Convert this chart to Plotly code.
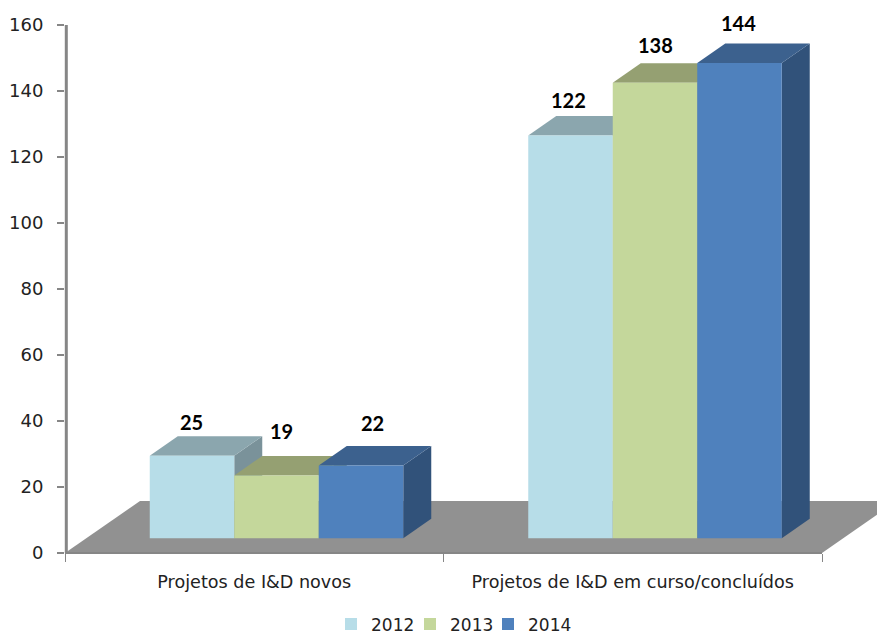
import plotly.graph_objects as go

categories = ["Projetos de I&D novos", "Projetos de I&D em curso/concluídos"]
years = ["2012", "2013", "2014"]
values_2012 = [25, 122]
values_2013 = [19, 138]
values_2014 = [22, 144]
y_ticks = [0, 20, 40, 60, 80, 100, 120, 140, 160]

front_colors = ["#B7DDE8", "#C4D79B", "#4F81BD"]
top_colors = ["#8BA6AE", "#95A072", "#3C618E"]
side_colors = ["#7A929A", "#84906A", "#31527A"]
FLOOR = "#919191"
AXIS = "#868686"
FONT = "Lato"
TICK_FONT = "DejaVu Sans"

# layout in pixels (page body adds an 8 px offset)
OFFSET = 8
W, H = 885 - OFFSET, 645
L, T = 65 - OFFSET, 25 - OFFSET
B = H - (553 - OFFSET)
px_per_cat = 378.5
px_per_unit = 3.3
x_max = (W - L) / px_per_cat
plot_w = W - L
plot_h = H - T - B

bar_w = 84.5 / px_per_cat
shift = 22.25 / px_per_cat
base = 4.5
dx, dy = 28 / px_per_cat, 19.5 / px_per_unit
floor_dx, floor_dy = 75 / px_per_cat, 52 / px_per_unit

series = [values_2012, values_2013, values_2014]
# per-label pixel nudges (2012, 2013, 2014) for each category
label_dx = [[-1, 5, 11], [-2, 0, -1]]
label_up = [[34, 44, 43], [36, 38, 40]]
# left edge of each one-entry legend, in image pixels
legend_left_px = [331, 410, 488]
legend_names = ["legend", "legend2", "legend3"]

def path(points):
    return "M" + "L".join(f"{x},{y}" for x, y in points) + "Z"

fig = go.Figure()
shapes = [dict(type="path", layer="below", xref="x", yref="y",
               path=path([(0, 0), (2, 0), (2 + floor_dx, floor_dy), (floor_dx, floor_dy)]),
               fillcolor=FLOOR, line=dict(width=0))]
annotations = []

for s, (year, vals) in enumerate(zip(years, series)):
    xs = [c + 0.5 + shift + (s - 1) * bar_w for c in range(len(categories))]
    fig.add_trace(go.Bar(x=xs, y=vals, base=base, width=bar_w, name=year,
                         legend=legend_names[s],
                         marker=dict(color=front_colors[s], line=dict(width=0)),
                         hoverinfo="skip"))

for c in range(len(categories)):
    for s, vals in enumerate(series):
        xc = c + 0.5 + shift + (s - 1) * bar_w
        x0, x1 = xc - bar_w / 2, xc + bar_w / 2
        top = vals[c] + base
        shapes.append(dict(type="path", layer="below", xref="x", yref="y",
                           path=path([(x1, base), (x1, top), (x1 + dx, top + dy), (x1 + dx, base + dy)]),
                           fillcolor=side_colors[s], line=dict(width=0)))
        shapes.append(dict(type="path", layer="below", xref="x", yref="y",
                           path=path([(x0, top), (x1, top), (x1 + dx, top + dy), (x0 + dx, top + dy)]),
                           fillcolor=top_colors[s], line=dict(width=0)))
        annotations.append(dict(x=xc, y=top, xref="x", yref="y", text=f"<b>{vals[c]}</b>",
                                showarrow=False, xshift=label_dx[c][s], yshift=label_up[c][s],
                                font=dict(family=FONT, size=20, color="#000000")))

# axis lines: x stops at the last category while the floor runs past it
shapes.append(dict(type="line", layer="above", xref="paper", yref="paper",
                   x0=0, x1=2 / x_max, y0=0, y1=0, line=dict(color=AXIS, width=2)))
shapes.append(dict(type="line", layer="above", xref="paper", yref="paper",
                   x0=1.3 / plot_w, x1=1.3 / plot_w, y0=0, y1=1, line=dict(color=AXIS, width=3)))

legend_layout = {
    name: dict(orientation="h", x=(px - 65) / plot_w, xanchor="left", y=-0.1013, yanchor="top",
               font=dict(family=TICK_FONT, size=17, color="#222222"),
               bgcolor="rgba(0,0,0,0)")
    for name, px in zip(legend_names, legend_left_px)
}

fig.update_layout(
    width=W, height=H, autosize=False,
    margin=dict(l=L, r=0, t=T, b=B, pad=0, autoexpand=False),
    paper_bgcolor="white", plot_bgcolor="white",
    barmode="overlay", showlegend=True,
    shapes=shapes, annotations=annotations,
    font=dict(family=TICK_FONT, size=17, color="#222222"),
    xaxis=dict(range=[0, x_max], showgrid=False, zeroline=False, showline=False,
               tickmode="array", tickvals=[c + 0.5 for c in range(len(categories))],
               ticktext=categories, ticks="", ticklabelstandoff=16,
               tickfont=dict(family=TICK_FONT, size=17.6, color="#222222"),
               minor=dict(tickmode="array", tickvals=[0, 1, 2], ticks="outside",
                          ticklen=8, tickcolor=AXIS, tickwidth=1)),
    yaxis=dict(range=[0, 160], showgrid=False, zeroline=False, showline=False,
               tickmode="array", tickvals=y_ticks,
               ticks="outside", ticklen=7, tickcolor=AXIS, tickwidth=1.5,
               ticklabelstandoff=10,
               tickfont=dict(family=TICK_FONT, size=18, color="#222222")),
    **legend_layout,
)

fig.write_html("out.html")
